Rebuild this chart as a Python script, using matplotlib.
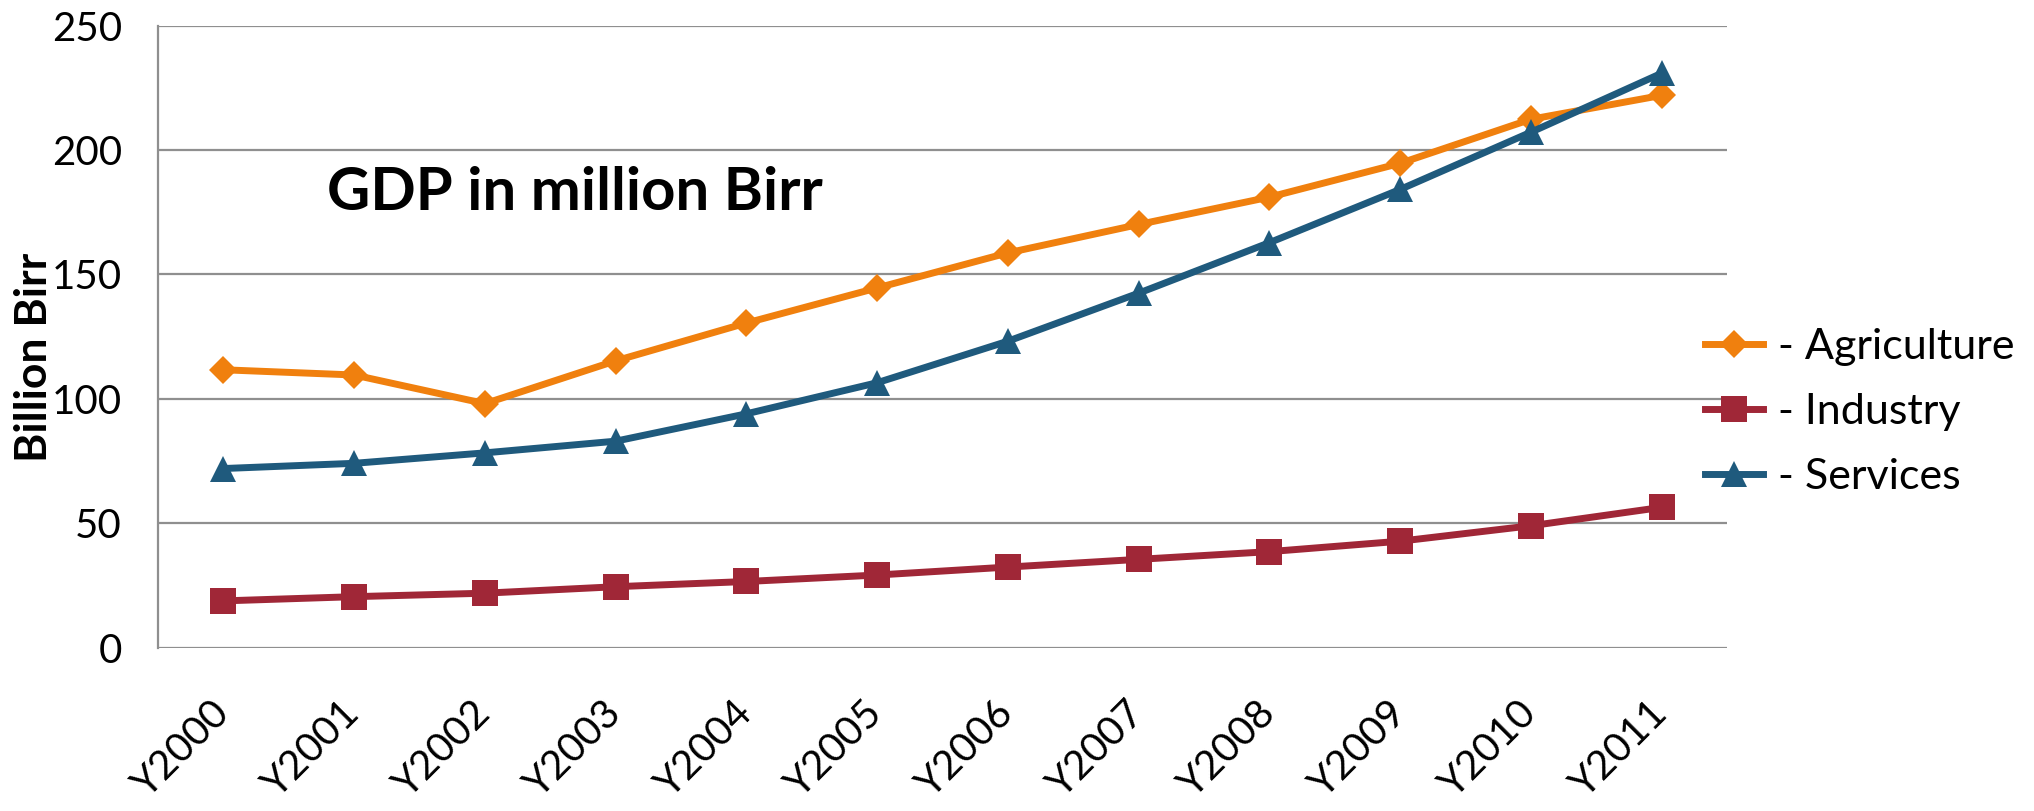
import matplotlib.pyplot as plt

plt.rcParams['font.family'] = ['Lato', 'DejaVu Sans']

years = ['Y2000', 'Y2001', 'Y2002', 'Y2003', 'Y2004', 'Y2005',
         'Y2006', 'Y2007', 'Y2008', 'Y2009', 'Y2010', 'Y2011']
agriculture = [111.7, 109.6, 98.1, 115.3, 130.5, 144.6, 158.7, 170.1, 181.1, 194.7, 212.4, 222.0]
industry = [18.8, 20.5, 21.9, 24.5, 26.6, 29.2, 32.4, 35.5, 38.6, 42.8, 49.0, 56.4]
services = [72.0, 74.1, 78.3, 83.0, 94.0, 106.5, 123.2, 142.5, 162.8, 184.2, 207.2, 230.9]

fig = plt.figure(figsize=(20.34, 8.11), dpi=100)
ax = fig.add_axes([0.0777, 0.2014, 0.7714, 0.7669])

x = range(len(years))
ax.plot(x, agriculture, color='#F0800E', lw=5, marker='D', ms=14, mew=0, label='- Agriculture', zorder=3)
ax.plot(x, industry, color='#A02737', lw=5, marker='s', ms=19, mew=0, label='- Industry', zorder=3)
ax.plot(x, services, color='#1F5A7D', lw=5, marker='^', ms=19, mew=0, label='- Services', zorder=3)

ax.set_xlim(-0.5, len(years) - 0.5)
ax.set_ylim(0, 250)
ax.set_yticks([0, 50, 100, 150, 200, 250])
ax.set_xticks(list(x))
ax.set_xticklabels(years, rotation=45, ha='right', va='center', rotation_mode='anchor')

ax.grid(axis='y', color='#8f8f8f', lw=1.6, zorder=0)
ax.set_axisbelow(True)
for s in ['top', 'right', 'bottom']:
    ax.spines[s].set_visible(False)
ax.spines['left'].set_color('#8f8f8f')
ax.spines['left'].set_linewidth(1.6)

ax.tick_params(axis='y', length=0, pad=26, labelsize=29)
ax.tick_params(axis='x', length=0, pad=43, labelsize=29)

fig.text(34 / 2034, 1 - 357 / 811, 'Billion Birr', rotation=90, ha='center', va='center',
         fontsize=32, fontweight='bold')
fig.text(574.5 / 2034, 1 - 210 / 811, 'GDP in million Birr', ha='center', va='baseline',
         fontsize=43, fontweight='bold')

fig.legend(loc='center left', bbox_to_anchor=(1705 / 2034, 1 - 412 / 811), frameon=False,
           fontsize=31, handlelength=1.35, handletextpad=0.35, borderpad=0, borderaxespad=0,
           labelspacing=0.62)

plt.savefig('out.png', dpi=100)
